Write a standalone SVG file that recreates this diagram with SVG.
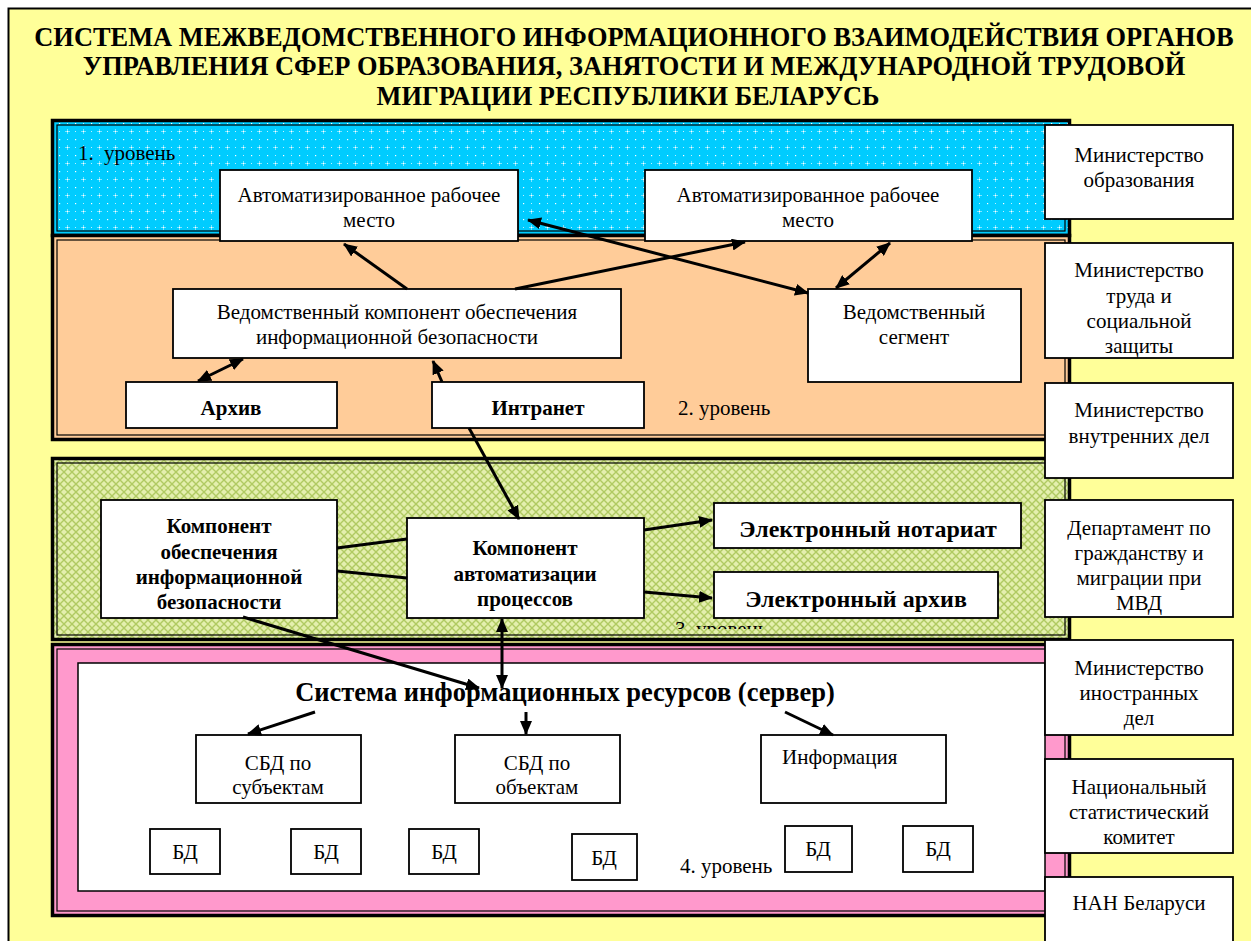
<svg xmlns="http://www.w3.org/2000/svg" width="1251" height="941" viewBox="0 0 1251 941">
<style>
text{font-family:'Liberation Serif','Times New Roman',serif;font-size:21px;fill:#000}
.c{text-anchor:middle}
.b{font-weight:bold}
.ttl{font-size:26.4px;font-weight:bold;text-anchor:middle}
.box{fill:#fff;stroke:#000;stroke-width:1.8}
.fo{stroke:#000;stroke-width:3.5}
.fi{fill:none;stroke:#000;stroke-width:1.2}
.ln{stroke:#000;stroke-width:3;fill:none}
.ar{stroke:#000;stroke-width:3;fill:none;marker-end:url(#ah)}
.ad{stroke:#000;stroke-width:3;fill:none;marker-end:url(#ah);marker-start:url(#ah)}
</style>
<defs>
<marker id="ah" viewBox="0 0 14 12" refX="13" refY="6" markerWidth="14" markerHeight="12" markerUnits="userSpaceOnUse" orient="auto-start-reverse">
<path d="M0,0 L14,6 L0,12 z" fill="#000"/>
</marker>
<pattern id="pc" width="16" height="16" patternUnits="userSpaceOnUse">
<rect width="16" height="16" fill="#00CCFF"/>
<rect x="3" y="1" width="1" height="5" fill="#7FE5FF"/>
<rect x="1" y="3" width="5" height="1" fill="#7FE5FF"/>
<rect x="3" y="3" width="1" height="1" fill="#fff"/>
<rect x="11" y="11" width="1.2" height="1.2" fill="#fff"/>
<rect x="11" y="3" width="1" height="1" fill="#BFF2FF"/>
<rect x="3" y="11" width="1" height="1" fill="#BFF2FF"/>
</pattern>
<pattern id="pg" width="8" height="8" patternUnits="userSpaceOnUse">
<rect width="8" height="8" fill="#E4EFAE"/>
<path d="M0,0 L8,8 M8,0 L0,8" stroke="#B0CA62" stroke-width="1.4"/>
</pattern>
<clipPath id="cl3"><rect x="600" y="600" width="300" height="29"/></clipPath>
</defs>

<rect id="bg" x="8.5" y="8.5" width="1250" height="940" fill="#FFFF99" stroke="#000" stroke-width="2"/>

<g id="title">
<text class="ttl" x="634" y="46">СИСТЕМА МЕЖВЕДОМСТВЕННОГО ИНФОРМАЦИОННОГО ВЗАИМОДЕЙСТВИЯ ОРГАНОВ</text>
<text class="ttl" x="634" y="75">УПРАВЛЕНИЯ СФЕР ОБРАЗОВАНИЯ, ЗАНЯТОСТИ И МЕЖДУНАРОДНОЙ ТРУДОВОЙ</text>
<text class="ttl" x="628" y="105">МИГРАЦИИ РЕСПУБЛИКИ БЕЛАРУСЬ</text>
</g>

<g id="level1">
<rect class="fo" x="52.5" y="120.5" width="1017" height="115" fill="url(#pc)"/>
<rect class="fi" x="57" y="125" width="1008" height="106"/>
<text x="78" y="160">1.</text><text x="104" y="160">уровень</text>
</g>
<g id="level2">
<rect class="fo" x="52.5" y="235.5" width="1017" height="204" fill="#FFCC99"/>
<rect class="fi" x="57" y="240" width="1008" height="195"/>
<text x="678" y="415">2. уровень</text>
</g>
<g id="level3">
<rect class="fo" x="52.5" y="458.5" width="1017" height="181" fill="url(#pg)"/>
<rect class="fi" x="57" y="463" width="1008" height="172"/>
<text x="675" y="636" clip-path="url(#cl3)">3. уровень</text>
</g>
<g id="level4">
<rect class="fo" x="52.5" y="644.5" width="1017" height="271" fill="#FF99CC"/>
<rect class="fi" x="57" y="649" width="1008" height="262"/>
<rect x="78" y="663" width="967" height="228" fill="#fff" stroke="#000" stroke-width="1.5"/>
<text x="680" y="873">4. уровень</text>
</g>

<g id="arm1"><rect class="box" x="220" y="170" width="298" height="71"/>
<text class="c" x="369" y="202">Автоматизированное рабочее</text><text class="c" x="369" y="227">место</text></g>
<g id="arm2"><rect class="box" x="645" y="170" width="327" height="71"/>
<text class="c" x="808" y="202">Автоматизированное рабочее</text><text class="c" x="808" y="227">место</text></g>

<g id="vedkomp"><rect class="box" x="173" y="289" width="448" height="69"/>
<text class="c" x="397" y="319">Ведомственный компонент обеспечения</text><text class="c" x="397" y="344">информационной безопасности</text></g>
<g id="vedseg"><rect class="box" x="808" y="289" width="213" height="93"/>
<text class="c" x="914" y="319">Ведомственный</text><text class="c" x="914" y="344">сегмент</text></g>
<g id="arhiv"><rect class="box" x="126" y="382" width="211" height="46"/>
<text class="c b" x="231" y="415">Архив</text></g>
<g id="intranet"><rect class="box" x="432" y="382" width="212" height="46"/>
<text class="c b" x="538" y="415">Интранет</text></g>

<g id="kompobesp"><rect class="box" x="101" y="500" width="236" height="118"/>
<text class="c b" x="219" y="533">Компонент</text><text class="c b" x="219" y="559">обеспечения</text><text class="c b" x="219" y="584">информационной</text><text class="c b" x="219" y="609">безопасности</text></g>
<g id="kompavt"><rect class="box" x="407" y="518" width="237" height="100"/>
<text class="c b" x="525" y="555">Компонент</text><text class="c b" x="525" y="581">автоматизации</text><text class="c b" x="525" y="606">процессов</text></g>
<g id="elnot"><rect class="box" x="714" y="503" width="307" height="45"/>
<text class="c b" style="font-size:24px" x="868" y="537">Электронный нотариат</text></g>
<g id="elarh"><rect class="box" x="714" y="572" width="284" height="46"/>
<text class="c b" style="font-size:24px" x="856" y="607">Электронный архив</text></g>

<g id="sir"><text class="c b" style="font-size:26.5px" x="565" y="701">Система информационных ресурсов (сервер)</text></g>
<g id="sbdsub"><rect class="box" x="196" y="735" width="165" height="68"/>
<text class="c" x="278" y="770">СБД по</text><text class="c" x="278" y="794">субъектам</text></g>
<g id="sbdobj"><rect class="box" x="455" y="735" width="165" height="68"/>
<text class="c" x="537" y="770">СБД по</text><text class="c" x="537" y="794">объектам</text></g>
<g id="info"><rect class="box" x="761" y="735" width="185" height="68"/>
<text x="782" y="764">Информация</text></g>

<g id="bd1"><rect class="box" x="150" y="829" width="70" height="45"/><text class="c" x="185" y="859">БД</text></g>
<g id="bd2"><rect class="box" x="291" y="829" width="70" height="45"/><text class="c" x="326" y="859">БД</text></g>
<g id="bd3"><rect class="box" x="409" y="829" width="70" height="45"/><text class="c" x="444" y="859">БД</text></g>
<g id="bd4"><rect class="box" x="572" y="834" width="65" height="46"/><text class="c" x="604" y="865">БД</text></g>
<g id="bd5"><rect class="box" x="785" y="826" width="67" height="46"/><text class="c" x="818" y="856">БД</text></g>
<g id="bd6"><rect class="box" x="903" y="826" width="70" height="46"/><text class="c" x="938" y="856">БД</text></g>

<g id="min-obr"><rect class="box" x="1045" y="125" width="188" height="94"/>
<text class="c" x="1139" y="162">Министерство</text><text class="c" x="1139" y="187">образования</text></g>
<g id="min-trud"><rect class="box" x="1045" y="243" width="188" height="115"/>
<text class="c" x="1139" y="277">Министерство</text><text class="c" x="1139" y="303">труда и</text><text class="c" x="1139" y="328">социальной</text><text class="c" x="1139" y="353">защиты</text></g>
<g id="mvd"><rect class="box" x="1045" y="383" width="188" height="95"/>
<text class="c" x="1139" y="417">Министерство</text><text class="c" x="1139" y="443">внутренних дел</text></g>
<g id="dep"><rect class="box" x="1045" y="500" width="188" height="117"/>
<text class="c" x="1139" y="535">Департамент по</text><text class="c" x="1139" y="560">гражданству и</text><text class="c" x="1139" y="585">миграции при</text><text class="c" x="1139" y="610">МВД</text></g>
<g id="mid"><rect class="box" x="1045" y="640" width="188" height="95"/>
<text class="c" x="1139" y="675">Министерство</text><text class="c" x="1139" y="700">иностранных</text><text class="c" x="1139" y="725">дел</text></g>
<g id="stat"><rect class="box" x="1045" y="759" width="188" height="94"/>
<text class="c" x="1139" y="794">Национальный</text><text class="c" x="1139" y="819">статистический</text><text class="c" x="1139" y="844">комитет</text></g>
<g id="nan"><rect class="box" x="1045" y="877" width="188" height="70"/>
<text class="c" x="1139" y="910">НАН Беларуси</text></g>

<g id="connectors">
<line class="ar" x1="407" y1="289" x2="344" y2="244"/>
<line class="ar" x1="515" y1="289" x2="745" y2="242"/>
<line class="ad" x1="528" y1="220" x2="808" y2="293"/>
<line class="ad" x1="836" y1="288" x2="890" y2="243"/>
<line class="ad" x1="198" y1="381" x2="243" y2="359"/>
<line class="ar" x1="442" y1="382" x2="433" y2="361"/>
<line class="ar" x1="469" y1="428" x2="519" y2="519"/>
<line class="ln" x1="337" y1="548" x2="407" y2="539"/>
<line class="ln" x1="337" y1="571" x2="407" y2="578"/>
<line class="ar" x1="644" y1="530" x2="712" y2="520"/>
<line class="ar" x1="644" y1="592" x2="712" y2="598"/>
<line class="ar" x1="243" y1="617" x2="479" y2="688"/>
<line class="ad" x1="502" y1="619" x2="502" y2="688"/>
<line class="ar" x1="315" y1="712" x2="248" y2="734"/>
<line class="ar" x1="526" y1="712" x2="526" y2="734"/>
<line class="ar" x1="785" y1="712" x2="833" y2="735"/>
</g>
</svg>
